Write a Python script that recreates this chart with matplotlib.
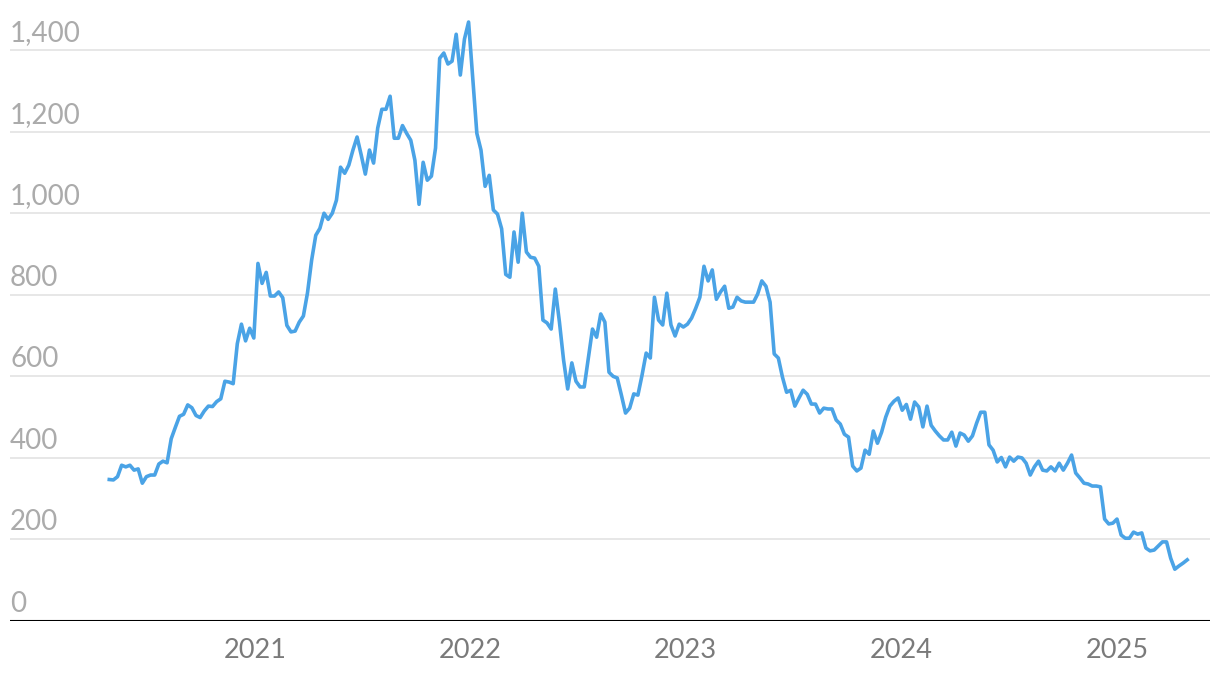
import pandas as pd
import matplotlib.pyplot as plt
import matplotlib.dates as mdates
import matplotlib.transforms as mtransforms

plt.rcParams['font.family'] = ['Lato', 'DejaVu Sans']

# weekly values, end of April 2020 to early May 2025
start = "2020-04-29"
values = [
    347, 346, 354, 382, 378, 382, 370, 373, 338, 354, 358, 358,
    385, 392, 388, 447, 475, 502, 507, 530, 523, 504, 499, 515, 527, 526, 538, 545,
    588, 586, 582, 680, 728, 687, 718, 694,
    877, 828, 855, 797, 797, 807, 793, 725, 709, 711, 733, 748,
    805, 885, 946, 963, 1000, 985, 1000, 1032,
    1113, 1098, 1118, 1155, 1187, 1143, 1096, 1155, 1123,
    1209, 1255, 1255, 1287, 1184, 1184, 1215, 1196, 1179, 1130,
    1022, 1125, 1081, 1091, 1160, 1380, 1393, 1366, 1373,
    1439, 1339, 1427, 1469, 1334, 1196, 1155, 1066, 1093, 1008, 998,
    962, 850, 843, 954, 880, 1000, 905, 892, 890, 870,
    738, 731, 716, 814, 733, 640, 569, 633, 588, 574, 574,
    645, 716, 696, 753, 733, 610, 600, 596, 554, 510,
    522, 557, 554, 603, 657, 645, 794, 738, 726, 804,
    726, 699, 728, 721, 728, 743, 767, 794, 870, 834,
    861, 789, 807, 821, 767, 770, 794, 785, 782, 782,
    782, 802, 834, 821, 782, 655, 645, 598, 561, 566,
    527, 547, 566, 556, 532, 532, 510, 522, 520, 520,
    493, 483, 458, 451, 380, 368, 375, 419, 409,
    466, 436, 463, 500, 527, 539, 547, 517, 531,
    495, 537, 525, 476, 527, 480, 466, 454, 444, 444,
    463, 429, 461, 456, 441, 454, 485, 512, 512,
    432, 419, 390, 401, 378, 402, 392, 402, 400,
    387, 358, 378, 392, 370, 368, 378, 368, 387,
    370, 387, 407, 363, 351, 338, 336, 331, 331,
    329, 250, 238, 240, 250, 211, 203, 203, 218,
    213, 216, 179, 172, 174, 184, 194, 194, 154,
    127, 135, 142, 150,
]
dates = pd.date_range(start, periods=len(values), freq="7D")

y_ticks = [0, 200, 400, 600, 800, 1000, 1200, 1400]
y_labels = ["0", "200", "400", "600", "800", "1,000", "1,200", "1,400"]
x_years = [2021, 2022, 2023, 2024, 2025]

fig = plt.figure(figsize=(12.2, 6.78), dpi=100)
ax = fig.add_axes([10 / 1220, 57 / 678, 1200 / 1220, 621 / 678])

ax.plot(dates, values, color="#4aa3e6", linewidth=2.6, solid_joinstyle="round", zorder=3)

ref = mdates.date2num(pd.Timestamp("2021-01-01"))
ax.set_xlim(ref + (10 - 255) * 1.6949, ref + (1210 - 255) * 1.6949)
ax.set_ylim(0, 1523)

for v in y_ticks[1:]:
    ax.axhline(v, color="#e3e3e3", linewidth=1.2, zorder=1)
ax.axhline(0, color="black", linewidth=1.5, zorder=4)

trans = mtransforms.blended_transform_factory(ax.transAxes, ax.transData)
for v, lab in zip(y_ticks, y_labels):
    ax.annotate(lab, (0, v), xycoords=trans, xytext=(0, 6.5), textcoords="offset points",
                ha="left", va="baseline", fontsize=20, color="#ababab")

ax.set_yticks([])
ax.set_xticks([pd.Timestamp(f"{y}-01-01") for y in x_years])
ax.set_xticklabels([str(y) for y in x_years], fontsize=19.5, color="#7a7a7a")
ax.tick_params(axis="x", length=0, pad=12)

for s in ax.spines.values():
    s.set_visible(False)

fig.savefig("out.png", dpi=100)
